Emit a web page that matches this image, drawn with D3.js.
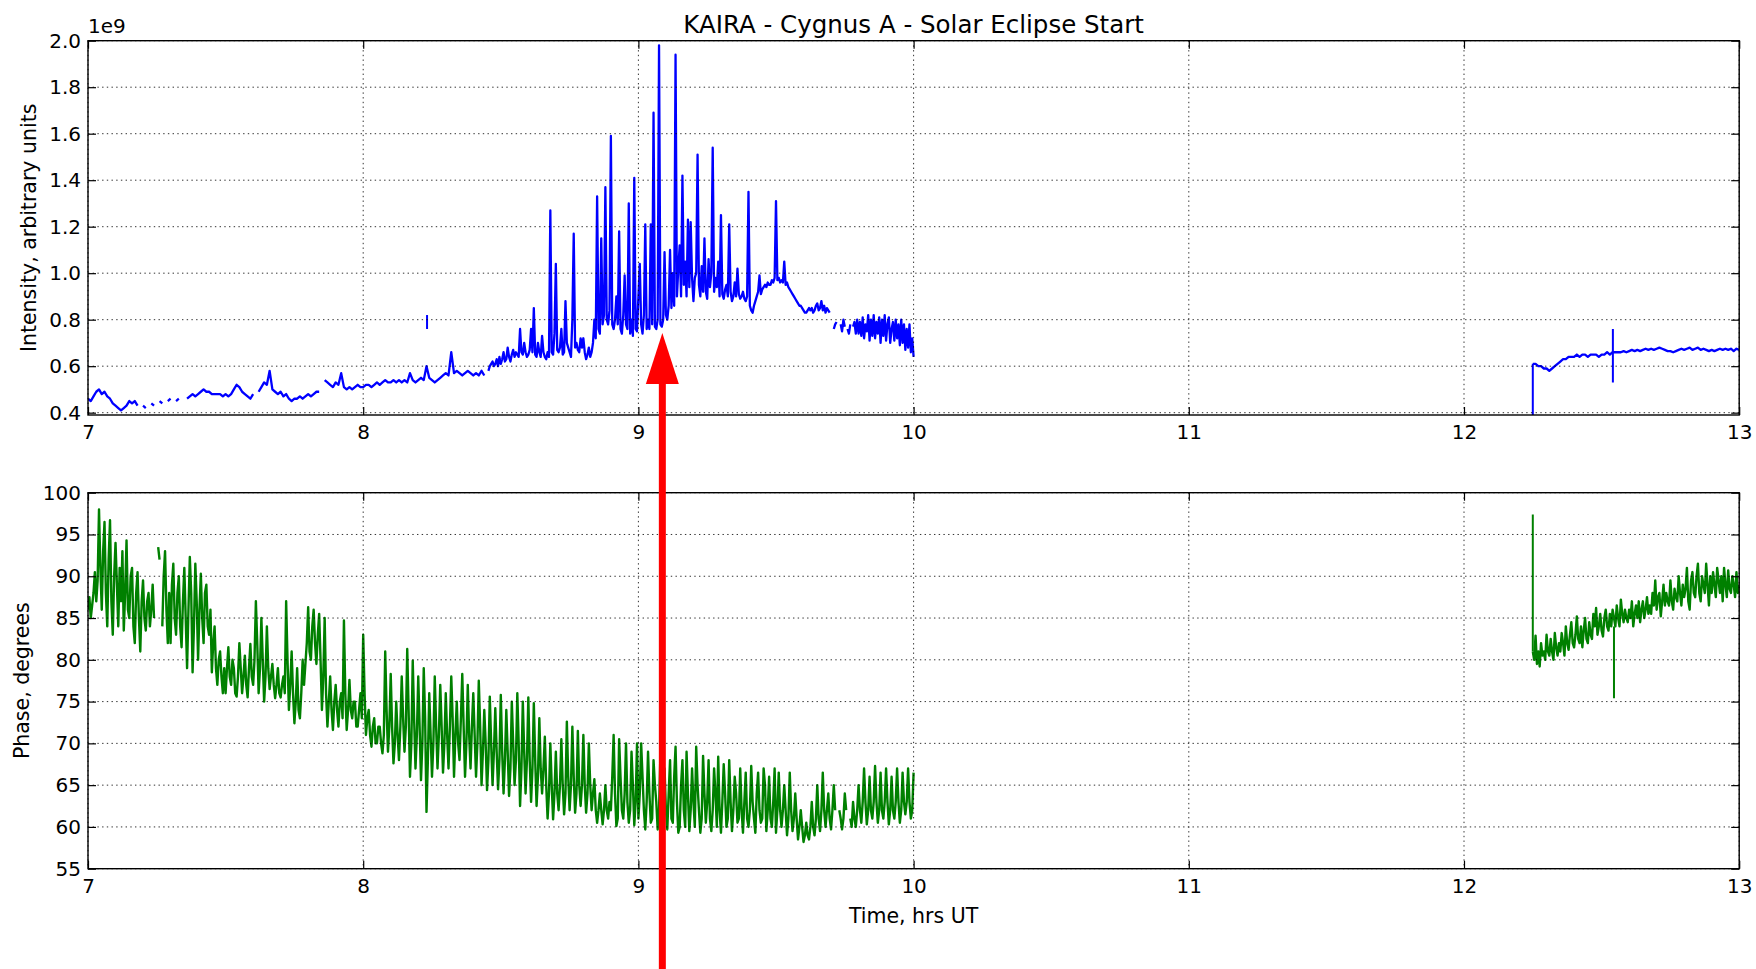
<!DOCTYPE html>
<html lang="en">
<head>
<meta charset="utf-8">
<title>KAIRA - Cygnus A - Solar Eclipse Start</title>
<script src="https://d3js.org/d3.v7.min.js"></script>
<style>
  body { margin: 0; background: #fff; }
  svg text { font-family: 'DejaVu Sans', sans-serif; fill: #000; }
</style>
</head>
<body>
<div id="chart"></div>
<script>
// ---- values, time in hrs UT ----
var timeTicks = [7, 8, 9, 10, 11, 12, 13];
var intensityTicks = [0.4, 0.6, 0.8, 1.0, 1.2, 1.4, 1.6, 1.8, 2.0];
var phaseTicks = [55, 60, 65, 70, 75, 80, 85, 90, 95, 100];

var eclipseStart = 9.087; // red arrow

// intensity (x 1e9), 7.00 .. 8.44, every 0.01 h
var intensityQuiet = [
  0.46, 0.45, 0.47, 0.49, 0.50, 0.48, 0.49, 0.47, 0.46, 0.44,
  0.43, 0.42, 0.41, 0.42, 0.43, 0.45, 0.44, 0.45, 0.43, null,
  0.43, 0.42, null, 0.44, 0.43, null, 0.45, 0.44, null, 0.45,
  0.46, null, 0.45, 0.46, null, null, 0.46, 0.47, 0.48, 0.47,
  0.48, 0.49, 0.50, 0.49, 0.49, 0.48, 0.48, 0.48, 0.48, 0.47,
  0.48, 0.47, 0.48, 0.50, 0.52, 0.51, 0.49, 0.48, 0.47, 0.46,
  0.48, null, 0.49, 0.51, 0.53, 0.52, 0.58, 0.50, 0.49, 0.48,
  0.49, 0.47, 0.48, 0.46, 0.45, 0.46, 0.46, 0.47, 0.46, 0.47,
  0.48, 0.47, 0.48, 0.49, 0.49, null, 0.54, 0.53, 0.52, 0.51,
  0.53, 0.52, 0.57, 0.51, 0.50, 0.51, 0.50, 0.51, 0.52, 0.51,
  0.51, 0.52, 0.52, 0.51, 0.52, 0.53, 0.52, 0.53, 0.54, 0.53,
  0.53, 0.54, 0.53, 0.54, 0.53, 0.54, 0.53, 0.57, 0.54, 0.53,
  0.54, 0.55, 0.54, 0.60, 0.55, 0.54, 0.53, 0.54, 0.55, 0.56,
  0.57, 0.56, 0.66, 0.57, 0.58, 0.57, 0.56, 0.57, 0.58, 0.57,
  0.56, 0.57, 0.56, 0.58, 0.56
];

// intensity (x 1e9), 8.45 .. 10.00, every 0.005 h
var intensityActive = [
  null, 0.58, 0.60, 0.61, 0.62, 0.60, 0.61, 0.63, 0.60, 0.64,
  0.61, 0.63, 0.66, 0.62, 0.63, 0.68, 0.64, 0.62, 0.65, 0.67,
  0.64, 0.66, 0.65, 0.64, 0.76, 0.66, 0.65, 0.70, 0.66, 0.64,
  0.65, 0.67, 0.76, 0.66, 0.85, 0.65, 0.64, 0.70, 0.66, 0.64,
  0.73, 0.66, 0.64, 0.63, 0.66, 0.64, 1.27, 0.66, 0.65, 0.74,
  1.04, 0.67, 0.66, 0.68, 0.76, 0.65, 0.66, 0.88, 0.70, 0.68,
  0.66, 0.64, 0.80, 1.17, 0.68, 0.70, 0.67, 0.66, 0.72, 0.68,
  0.72, 0.66, 0.63, 0.65, 0.68, 0.64, 0.66, 0.70, 0.80, 0.72,
  1.33, 0.76, 0.74, 1.15, 0.78, 0.82, 1.37, 0.80, 0.78, 0.84,
  1.59, 0.78, 0.76, 0.80, 0.90, 0.78, 1.18, 0.76, 0.74, 0.82,
  0.99, 0.78, 0.76, 1.30, 0.74, 0.80, 0.73, 1.41, 0.76, 0.75,
  0.90, 1.04, 0.78, 0.74, 0.82, 1.21, 0.76, 0.80, 0.76, 1.21,
  0.78, 1.69, 0.77, 0.76, 0.80, 1.98, 0.78, 0.77, 0.80, 1.09,
  0.82, 0.80, 0.86, 1.10, 0.85, 1.00, 0.86, 1.94, 0.90, 1.02,
  1.12, 0.90, 1.42, 0.95, 1.05, 0.90, 1.23, 0.94, 1.22, 0.98,
  0.88, 0.98, 1.00, 1.51, 0.95, 0.90, 1.03, 0.92, 1.15, 0.92,
  0.89, 1.06, 0.94, 1.00, 1.54, 0.92, 0.98, 0.94, 1.05, 0.90,
  1.25, 0.91, 0.89, 0.93, 0.95, 0.90, 1.21, 0.92, 0.88, 0.90,
  0.96, 0.90, 1.02, 0.91, 0.89, 0.90, 0.92, 0.89, 0.88, 0.90,
  1.35, 0.86, 0.84, 0.83, 0.86, 0.88, 0.90, 0.92, 0.99, 0.91,
  0.93, 0.94, 0.95, 0.94, 0.96, 0.95, 0.95, 0.97, 0.96, 0.98,
  1.31, 0.97, 0.98, 0.96, 0.97, 0.96, 1.05, 0.95, 0.96, 0.94,
  0.93, 0.92, 0.91, 0.90, 0.89, 0.88, 0.87, 0.86, 0.86, 0.85,
  0.84, 0.83, 0.83, 0.84, 0.85, 0.84, 0.85, 0.83, 0.84, 0.86,
  0.87, 0.84, 0.85, 0.88, 0.84, 0.86, 0.83, 0.85, 0.84, 0.83,
  null, null, 0.76, 0.78, 0.79, null, null, 0.78, 0.75, 0.80,
  0.77, null, 0.76, 0.74, 0.78, null, 0.77, 0.79, 0.74, 0.80,
  0.74, 0.79, 0.73, 0.81, 0.72, 0.78, 0.75, 0.82, 0.71, 0.80,
  0.73, 0.82, 0.72, 0.79, 0.74, 0.81, 0.70, 0.80, 0.73, 0.82,
  0.71, 0.78, 0.81, 0.70, 0.76, 0.79, 0.71, 0.80, 0.72, 0.78,
  0.69, 0.80, 0.70, 0.78, 0.67, 0.76, 0.68, 0.78, 0.66, 0.72,
  0.64
];

// intensity (x 1e9), 12.25 .. 13.00, every 0.01 h
var intensityLate = [
  0.61, 0.61, 0.60, 0.60, 0.59, 0.59, 0.58, 0.59, 0.60, 0.61,
  0.62, 0.63, 0.63, 0.64, 0.64, 0.64, 0.65, 0.64, 0.65, 0.65,
  0.64, 0.65, 0.65, 0.65, 0.64, 0.65, 0.65, 0.66, 0.65, 0.66,
  0.66, 0.66, 0.66, 0.665, 0.66, 0.665, 0.67, 0.665, 0.67, 0.665,
  0.67, 0.675, 0.67, 0.675, 0.67, 0.675, 0.68, 0.675, 0.67, 0.665,
  0.665, 0.66, 0.665, 0.67, 0.675, 0.67, 0.675, 0.68, 0.67, 0.675,
  0.68, 0.67, 0.675, 0.67, 0.665, 0.67, 0.665, 0.67, 0.675, 0.67,
  0.675, 0.67, 0.675, 0.665, 0.675, 0.67
];

// short vertical features: [time, low, high]
var intensitySpikes = [[8.232, 0.76, 0.82], [12.25, 0.38, 0.61], [12.541, 0.53, 0.76]];

// phase (degrees), 7.00 .. 10.00, every 0.005 h
var phaseEarly = [
  86, 87.5, 85, 86.5, 88, 90.5, 87, 89.5, 98, 91, 86, 93, 96.5, 88, 84, 92, 96.7, 87, 83, 90,
  94, 89, 84, 91, 87, 93, 83.5, 88, 94.3, 86, 85, 90, 91, 84, 82, 88, 90.5, 85, 81, 87,
  89.5, 85, 83.5, 87, 88, 84, 86, 89, 85, null, null, 93.5, 92, null, 84, 90, 93, 86, 82, 88,
  82, 89, 91.5, 85, 83, 88, 90, 84, 81.5, 87, 91, 85, 79, 86, 92.3, 88, 78.5, 84, 91.5, 87,
  80, 86, 90.3, 85, 82, 88, 89, 84, 83, 86, 78.5, 82, 84, 79, 77, 80, 81, 78, 76, 79,
  76, 79, 81.5, 78, 77, 80, 79, 76, 75.6, 78, 82, 79, 76, 78, 80.5, 77, 75.5, 79, 81.9, 78,
  77, 80, 87, 82, 76, 79, 85, 80, 75, 78, 84, 79, 76.5, 78, 79.5, 77, 75.4, 77, 79, 76,
  75.5, 77, 78, 76, 87, 80, 74, 77, 81, 76, 72.4, 75, 79, 74, 73, 76, 80, 77, 79.5, 82,
  86.3, 81, 80, 84, 86, 82, 79.5, 83, 85.5, 80, 74, 78, 85, 76, 72, 75, 78, 74, 71.6, 75,
  77, 74, 72, 75, 76, 73, 84.7, 76, 71.6, 74, 77.6, 74, 73, 75, 75, 72, 72, 74, 76, 73,
  83, 76, 71, 73, 74, 71, 69.6, 72, 73, 70, 70, 72, 72, 70, 68.8, 71, 81, 74, 69, 72,
  78.3, 72, 67.6, 70, 75, 71, 68, 72, 78, 73, 69, 72, 81.3, 74, 66, 70, 79.9, 73, 67, 71,
  78, 72, 65.6, 70, 79, 73, 61.8, 68, 76, 71, 66, 70, 78, 72, 67, 71, 77, 72, 66.5, 70,
  76, 71, 67, 72, 78, 73, 66, 71, 75, 70, 68, 73, 78.3, 72, 66, 70, 77, 71, 67, 72,
  76, 71, 66, 70, 77.5, 72, 65, 69, 74, 70, 64.4, 68, 75.6, 70, 65, 69, 74.2, 69, 64.5, 68,
  75.8, 69, 64, 68, 74, 69, 63.7, 67, 75, 70, 65, 68, 76, 70, 62.5, 67, 75, 69, 64, 68,
  75.5, 68, 63, 67, 74.8, 68, 62.5, 66, 73, 67, 64, 67, 70.8, 65, 61, 64, 70, 65, 60.9, 64,
  69, 64, 62, 65, 70.5, 65, 61.5, 64, 72.6, 66, 62, 65, 72, 66, 61.7, 64, 71.5, 65, 62.5, 65,
  71, 65, 61.7, 64, 70, 65, 62, 64, 65.7, 62, 60.5, 62, 64, 62, 60.3, 62, 65, 62, 61, 63,
  62, 66, 71, 64, 60.1, 61, 70.5, 66, 62, 61, 64, 70, 63, 60.5, 62, 69, 65, 60.2, 63, 70,
  61, 64, 70, 66, 62, 59.7, 63, 69, 64, 60.5, 61, 68, 65, 63, 59.7, 62, 68.8, 60, 63, 67,
  62, 59.7, 64, 68, 61, 60.5, 66, 69.6, 63, 59.3, 60, 65, 68, 62, 60, 69, 64, 59.5, 62, 67,
  63, 60, 69.6, 65, 62, 59.3, 61, 68.5, 64, 60.5, 63, 68, 61, 59.5, 62, 67, 64, 60, 68.4, 62,
  59.3, 63, 67.5, 64, 60, 61, 68, 63, 59.5, 62, 66, 64, 60.5, 61, 67, 62, 59.3, 63, 66.5, 61,
  60, 62, 67.3, 63, 61, 59.3, 64, 66.5, 62, 60.5, 61, 67, 65, 59.5, 62, 66, 61, 60, 63, 67,
  59.3, 62, 66.5, 62, 60, 62, 65, 62, 59, 61, 66.5, 62, 59.5, 61, 64, 61, 58.5, 60, 62, 60,
  58.2, 59, 60.5, 59, 58.5, 60, 63, 60, 59, 61, 65, 61, 59.5, 62, 66.5, 62, 60, 62, 64, 61,
  59.7, 62, 65, 62, null, null, 62, 61, 59.7, 61, 64, 62, null, null, 61, 60, 63, 61, 60, 62,
  65, 62, 60.5, 63, 67, 63, 60.3, 62, 66, 62, 61, 63, 67.3, 63, 60.5, 62, 66.5, 62, 61, 63,
  67, 63, 60.3, 62, 66, 62, 61, 63, 67, 63, 60.5, 62, 66.5, 63, 61.5, 63, 67, 63, 61, 62,
  66.5
];

// phase (degrees), 12.25 .. 13.00, every 0.005 h
var phaseLate = [
  81, 80, 82.9, 79.5, 81, 79.2, 82, 80.5, 81, 80,
  83, 81, 80.5, 82.5, 81, 80, 83.2, 81.5, 80.5, 82,
  81, 83.2, 82, 80.5, 84, 82, 81.2, 83, 84.5, 82,
  81.5, 83, 85.2, 82.5, 82, 84, 81.5, 83.5, 85, 82.5,
  82, 84.5, 83, 82.5, 85.5, 84, 86.2, 83, 84, 85.5,
  83.5, 82.8, 85, 86, 84, 83.5, 85.5, 84, 86, 85,
  84, 86.5, 85, 84, 87.2, 85.5, 84.5, 86, 85, 84.5,
  86, 85, 87, 84, 85.5, 86.5, 85, 87, 84.5, 86,
  87, 85, 86, 87.5, 85.5, 86.5, 85.5, 88, 86.5, 89.5,
  86, 87.5, 88, 85.2, 87, 89, 86.5, 88, 87, 86.5,
  89.5, 87, 86, 88.5, 87.5, 87, 90, 88, 86.5, 89,
  87.5, 88.5, 91, 87, 86, 89.5, 90.5, 88, 87.5, 90,
  91.5, 88, 87, 90, 89, 88, 91.5, 89, 86.5, 90,
  88, 90.5, 89, 87.5, 91, 89.5, 88, 90, 87, 91,
  89, 87.5, 90.7, 88.5, 88, 90, 89, 87.5, 90.5, 88,
  89
];

var phaseSpikes = [[12.25, 81, 97.4], [12.545, 75.4, 84]];

// ---- layout ----
var width = 1756, height = 969;
var left = 88, right = 1739.2;

var svg = d3.select("#chart").append("svg")
  .attr("width", width)
  .attr("height", height);

var x = d3.scaleLinear().domain([7, 13]).range([left, right]);

function series(start, step, vals) {
  return vals.map(function(v, i) { return { t: start + i * step, v: v }; });
}

function drawPanel(opts) {
  var y = d3.scaleLinear().domain(opts.domain).range([opts.bottom, opts.top]);
  var g = svg.append("g");

  g.append("clipPath").attr("id", opts.id)
    .append("rect")
      .attr("x", left).attr("y", opts.top)
      .attr("width", right - left).attr("height", opts.bottom - opts.top);

  var line = d3.line()
    .defined(function(d) { return d.v !== null; })
    .x(function(d) { return x(d.t); })
    .y(function(d) { return y(d.v); });

  var plot = g.append("g").attr("clip-path", "url(#" + opts.id + ")");
  opts.parts.forEach(function(p) {
    plot.append("path")
      .datum(series(p[0], p[1], p[2]))
      .attr("d", line)
      .attr("fill", "none")
      .attr("stroke", opts.color)
      .attr("stroke-width", opts.lw)
      .attr("stroke-linejoin", "round");
  });
  opts.spikes.forEach(function(s) {
    plot.append("path")
      .datum([{ t: s[0], v: s[1] }, { t: s[0], v: s[2] }])
      .attr("d", line)
      .attr("fill", "none")
      .attr("stroke", opts.color)
      .attr("stroke-width", 2);
  });

  // dotted grid, drawn over the data like matplotlib classic
  var grid = g.append("g")
    .attr("stroke", "#000")
    .attr("stroke-width", 1)
    .attr("stroke-dasharray", "1.4,3.3")
    .attr("opacity", 0.8);
  grid.selectAll(".gx").data(timeTicks).enter().append("line")
    .attr("x1", function(d) { return x(d); }).attr("x2", function(d) { return x(d); })
    .attr("y1", opts.top).attr("y2", opts.bottom);
  grid.selectAll(".gy").data(opts.ticks).enter().append("line")
    .attr("x1", left).attr("x2", right)
    .attr("y1", function(d) { return y(d); }).attr("y2", function(d) { return y(d); });

  // axes with inward ticks on all four sides
  g.append("g")
    .attr("transform", "translate(0," + opts.bottom + ")")
    .call(d3.axisBottom(x).tickValues(timeTicks).tickFormat(d3.format("d"))
      .tickSizeInner(-8).tickSizeOuter(0).tickPadding(10));
  g.append("g")
    .attr("transform", "translate(0," + opts.top + ")")
    .call(d3.axisTop(x).tickValues(timeTicks).tickFormat("")
      .tickSizeInner(-8).tickSizeOuter(0));
  g.append("g")
    .attr("transform", "translate(" + left + ",0)")
    .call(d3.axisLeft(y).tickValues(opts.ticks).tickFormat(opts.format)
      .tickSizeInner(-8).tickSizeOuter(0).tickPadding(7));
  g.append("g")
    .attr("transform", "translate(" + right + ",0)")
    .call(d3.axisRight(y).tickValues(opts.ticks).tickFormat("")
      .tickSizeInner(-8).tickSizeOuter(0));

  g.selectAll(".domain").remove();
  g.selectAll(".tick line").attr("stroke", "#000").attr("stroke-width", 1.2);
  g.selectAll(".tick text")
    .style("font-family", "'DejaVu Sans', sans-serif")
    .style("font-size", "20px")
    .attr("fill", "#000");

  g.append("rect")
    .attr("x", left).attr("y", opts.top)
    .attr("width", right - left).attr("height", opts.bottom - opts.top)
    .attr("fill", "none")
    .attr("stroke", "#000")
    .attr("stroke-width", 1.4);

  g.append("text")
    .attr("transform", "translate(" + opts.labelX + "," + ((opts.top + opts.bottom) / 2) + ") rotate(-90)")
    .attr("text-anchor", "middle")
    .attr("dy", "0.35em")
    .style("font-size", "20.5px")
    .text(opts.label);

  return y;
}

// top panel: intensity
drawPanel({
  id: "clipTop", top: 40.7, bottom: 415, domain: [0.39, 2.0],
  ticks: intensityTicks, format: d3.format(".1f"),
  color: "#0000ff", lw: 2.3, labelX: 28.5, label: "Intensity, arbitrary units",
  parts: [[7.0, 0.01, intensityQuiet], [8.45, 0.005, intensityActive], [12.25, 0.01, intensityLate]],
  spikes: intensitySpikes
});

// bottom panel: phase
drawPanel({
  id: "clipBottom", top: 492.7, bottom: 868.7, domain: [55, 100],
  ticks: phaseTicks, format: d3.format("d"),
  color: "#008000", lw: 2.4, labelX: 21.5, label: "Phase, degrees",
  parts: [[7.0, 0.005, phaseEarly], [12.25, 0.005, phaseLate]],
  spikes: phaseSpikes
});

svg.append("text")
  .attr("x", left).attr("y", 33)
  .style("font-size", "20px")
  .text("1e9");

svg.append("text")
  .attr("x", (left + right) / 2).attr("y", 33)
  .attr("text-anchor", "middle")
  .style("font-size", "24.5px")
  .text("KAIRA - Cygnus A - Solar Eclipse Start");

svg.append("text")
  .attr("x", (left + right) / 2).attr("y", 922.5)
  .attr("text-anchor", "middle")
  .style("font-size", "20.5px")
  .text("Time, hrs UT");

// red arrow marking the eclipse start
var ax = x(eclipseStart);
svg.append("line")
  .attr("x1", ax).attr("x2", ax)
  .attr("y1", 380).attr("y2", height)
  .attr("stroke", "#ff0000")
  .attr("stroke-width", 7);
svg.append("path")
  .attr("d", "M" + ax + ",333 L" + (ax - 16.5) + ",384 L" + (ax + 16.5) + ",384 Z")
  .attr("fill", "#ff0000");
</script>
</body>
</html>
